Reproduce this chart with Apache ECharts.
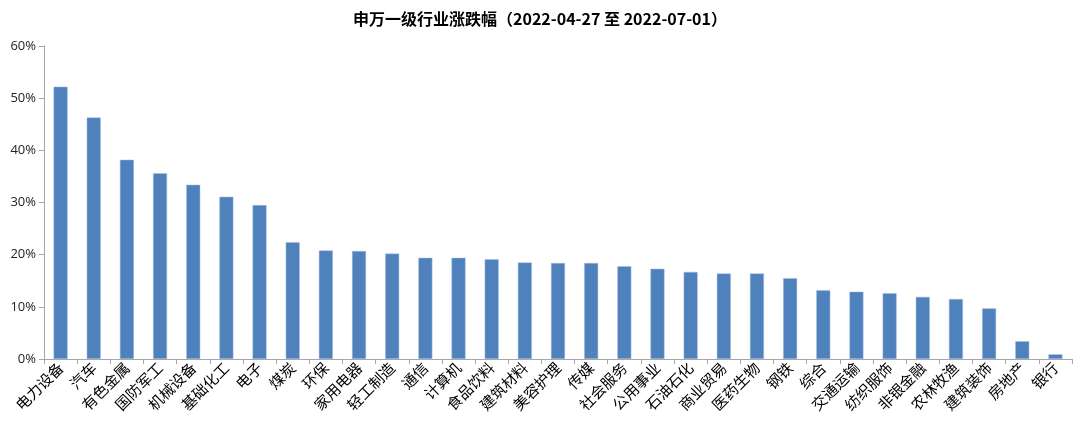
<!DOCTYPE html>
<html>
<head>
<meta charset="utf-8">
<script src="https://cdn.jsdelivr.net/npm/echarts@6/dist/echarts.min.js"></script>
<style>
  html, body { margin: 0; padding: 0; background: #fff; }
  #chart { width: 1080px; height: 431px; }
</style>
</head>
<body>
<div id="chart"></div>
<script>
    // 行业名称
    var industries = ['电力设备', '汽车', '有色金属', '国防军工', '机械设备', '基础化工', '电子', '煤炭', '环保', '家用电器',
        '轻工制造', '通信', '计算机', '食品饮料', '建筑材料', '美容护理', '传媒', '社会服务', '公用事业', '石油石化',
        '商业贸易', '医药生物', '钢铁', '综合', '交通运输', '纺织服饰', '非银金融', '农林牧渔', '建筑装饰', '房地产', '银行'];

    // 涨跌幅 (%)
    var changes = [52.2, 46.3, 38.2, 35.6, 33.4, 31.1, 29.5, 22.4, 20.8, 20.7,
        20.2, 19.4, 19.4, 19.1, 18.5, 18.4, 18.4, 17.8, 17.3, 16.7,
        16.4, 16.4, 15.5, 13.2, 12.9, 12.6, 11.9, 11.5, 9.7, 3.4, 0.9];

    var yTicks = [0, 10, 20, 30, 40, 50, 60];

    var chart = echarts.init(document.getElementById('chart'));

    var option = {
        animation: false,
        title: {
            text: '申万一级行业涨跌幅（2022-04-27 至 2022-07-01）',
            left: 'center',
            top: 6,
            textStyle: {
                fontFamily: 'Noto Sans CJK SC',
                fontSize: 16,
                fontWeight: 'bold',
                color: '#000'
            }
        },
        grid: {
            left: 44,
            right: 8,
            top: 46,
            bottom: 72
        },
        xAxis: {
            type: 'category',
            data: industries,
            axisLine: { lineStyle: { color: '#a6a6a6' } },
            axisTick: { show: true, alignWithLabel: false, length: 5, lineStyle: { color: '#a6a6a6' } },
            axisLabel: {
                interval: 0,
                rotate: 45,
                margin: 6,
                fontFamily: 'Noto Sans CJK SC',
                fontSize: 15,
                color: '#000'
            }
        },
        yAxis: {
            type: 'value',
            min: yTicks[0],
            max: yTicks[yTicks.length - 1],
            interval: 10,
            axisLine: { show: true, lineStyle: { color: '#a6a6a6' } },
            axisTick: { show: true, inside: false, length: 5, lineStyle: { color: '#a6a6a6' } },
            splitLine: { show: false },
            axisLabel: {
                formatter: '{value}%',
                margin: 8,
                fontFamily: 'Open Sans',
                fontSize: 13,
                color: '#222'
            }
        },
        series: [{
            type: 'bar',
            data: changes,
            barWidth: 14,
            itemStyle: {
                color: '#4f81bd',
                borderColor: '#a7bfde',
                borderWidth: 0.5
            }
        }]
    };

    chart.setOption(option);
</script>
</body>
</html>
